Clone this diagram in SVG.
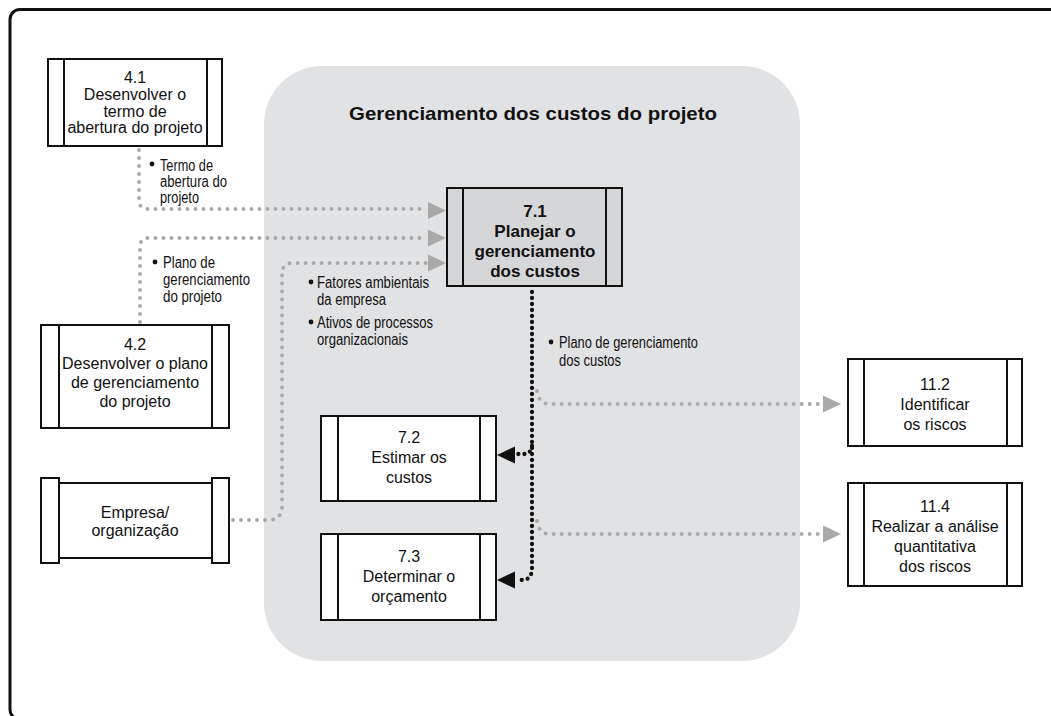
<svg xmlns="http://www.w3.org/2000/svg" width="1051" height="716" viewBox="0 0 1051 716">
<defs>
<style>
.box{fill:#fff;stroke:#111;stroke-width:2}
.hl{fill:#d5d6d8;stroke:#111;stroke-width:2}
.t{font-family:"Liberation Sans",Arial,sans-serif;font-size:16px;fill:#111;text-anchor:middle}
.tb{font-family:"Liberation Sans",Arial,sans-serif;font-size:17px;font-weight:bold;fill:#111;text-anchor:middle}
.lb{font-family:"Liberation Sans",Arial,sans-serif;font-size:16px;fill:#111}
.gd{fill:none;stroke:#a9a9a9;stroke-width:4;stroke-linecap:round;stroke-dasharray:0 8}
.bd{fill:none;stroke:#111;stroke-width:4.3;stroke-linecap:round;stroke-dasharray:0 6}
.ga{fill:#a9a9a9}
.ba{fill:#111}
</style>
</defs>
<rect width="1051" height="716" fill="#fff"/>
<rect x="10" y="9.5" width="1070" height="710" rx="10" fill="none" stroke="#111" stroke-width="3"/>
<rect x="264" y="66" width="536" height="595" rx="58" fill="#e1e2e4"/>
<text x="533" y="120" font-family="Liberation Sans,Arial,sans-serif" font-size="19" font-weight="bold" fill="#111" text-anchor="middle" textLength="368" lengthAdjust="spacingAndGlyphs">Gerenciamento dos custos do projeto</text>

<g id="connectors">
<path class="gd" d="M139,150 V200 Q139,209 148,209 H426"/>
<polygon class="ga" points="428,202 446,210.5 428,219"/>
<path class="gd" d="M140,322 V247 Q140,238 149,238 H426"/>
<polygon class="ga" points="428,229.5 446,238 428,246.5"/>
<path class="gd" d="M233,520 H268 Q282,520 282,506 V274 Q282,263 293,263 H426"/>
<polygon class="ga" points="428,254.5 446,263 428,271.5"/>
<path class="bd" d="M532,292 V568 Q532,580 522,580 H518"/>
<polygon class="ba" points="515,571.5 497,580 515,588.5"/>
<path class="bd" d="M532,446 Q531,454 524,454 H518"/>
<polygon class="ba" points="515,446.5 497,455 515,463.5"/>
<path class="gd" d="M537,391 Q539,404 550,404 H820"/>
<polygon class="ga" points="823,395.5 841,404 823,412.5"/>
<path class="gd" d="M537,521 Q539,534 550,534 H820"/>
<polygon class="ga" points="823,525.5 841,534 823,542.5"/>
<circle cx="152" cy="164" r="2.4" fill="#111"/>
<text class="lb" x="160" y="171" textLength="53" lengthAdjust="spacingAndGlyphs">Termo de</text>
<text class="lb" x="160" y="187" textLength="67" lengthAdjust="spacingAndGlyphs">abertura do</text>
<text class="lb" x="160" y="203" textLength="39" lengthAdjust="spacingAndGlyphs">projeto</text>
<circle cx="155" cy="262" r="2.4" fill="#111"/>
<text class="lb" x="163" y="268" textLength="52" lengthAdjust="spacingAndGlyphs">Plano de</text>
<text class="lb" x="163" y="285" textLength="87" lengthAdjust="spacingAndGlyphs">gerenciamento</text>
<text class="lb" x="163" y="302" textLength="59" lengthAdjust="spacingAndGlyphs">do projeto</text>
<circle cx="311" cy="282" r="2.4" fill="#111"/>
<text class="lb" x="317" y="288" textLength="112" lengthAdjust="spacingAndGlyphs">Fatores ambientais</text>
<text class="lb" x="317" y="305" textLength="69" lengthAdjust="spacingAndGlyphs">da empresa</text>
<circle cx="311" cy="322" r="2.4" fill="#111"/>
<text class="lb" x="317" y="328" textLength="116" lengthAdjust="spacingAndGlyphs">Ativos de processos</text>
<text class="lb" x="317" y="345" textLength="91" lengthAdjust="spacingAndGlyphs">organizacionais</text>
<circle cx="551" cy="342" r="2.4" fill="#111"/>
<text class="lb" x="559" y="348" textLength="139" lengthAdjust="spacingAndGlyphs">Plano de gerenciamento</text>
<text class="lb" x="559" y="366" textLength="62" lengthAdjust="spacingAndGlyphs">dos custos</text>
</g>

<g id="n41">
<rect class="box" x="48" y="59" width="174" height="87"/>
<line x1="64" y1="59" x2="64" y2="146" stroke="#111" stroke-width="2"/>
<line x1="207" y1="59" x2="207" y2="146" stroke="#111" stroke-width="2"/>
<text class="t" x="135" y="83" font-size="15.5">4.1</text>
<text class="t" x="135" y="100" font-size="15.5">Desenvolver o</text>
<text class="t" x="135" y="116.5" font-size="15.5">termo de</text>
<text class="t" x="135" y="133" font-size="15.5">abertura do projeto</text>
</g>

<g id="n42">
<rect class="box" x="41" y="325" width="188" height="103"/>
<line x1="59" y1="325" x2="59" y2="428" stroke="#111" stroke-width="2"/>
<line x1="212" y1="325" x2="212" y2="428" stroke="#111" stroke-width="2"/>
<text class="t" x="135" y="350" font-size="17">4.2</text>
<text class="t" x="135" y="369" font-size="17">Desenvolver o plano</text>
<text class="t" x="135" y="388" font-size="17">de gerenciamento</text>
<text class="t" x="135" y="407" font-size="17">do projeto</text>
</g>

<g id="nEmp">
<rect class="box" x="41" y="478" width="18" height="85"/>
<rect class="box" x="212" y="478" width="17" height="85"/>
<rect class="box" x="59" y="483" width="153" height="75"/>
<text class="t" x="135" y="518" font-size="17">Empresa/</text>
<text class="t" x="135" y="536" font-size="17">organização</text>
</g>

<g id="n71">
<rect class="hl" x="447" y="188" width="175" height="98"/>
<line x1="463" y1="188" x2="463" y2="286" stroke="#111" stroke-width="2"/>
<line x1="606" y1="188" x2="606" y2="286" stroke="#111" stroke-width="2"/>
<text class="tb" x="535" y="217">7.1</text>
<text class="tb" x="535" y="237">Planejar o</text>
<text class="tb" x="535" y="257">gerenciamento</text>
<text class="tb" x="535" y="277">dos custos</text>
</g>

<g id="n72">
<rect class="box" x="321" y="416" width="175" height="85"/>
<line x1="338" y1="416" x2="338" y2="501" stroke="#111" stroke-width="2"/>
<line x1="480" y1="416" x2="480" y2="501" stroke="#111" stroke-width="2"/>
<text class="t" x="409" y="443">7.2</text>
<text class="t" x="409" y="463">Estimar os</text>
<text class="t" x="409" y="483">custos</text>
</g>

<g id="n73">
<rect class="box" x="321" y="534" width="175" height="86"/>
<line x1="338" y1="534" x2="338" y2="620" stroke="#111" stroke-width="2"/>
<line x1="480" y1="534" x2="480" y2="620" stroke="#111" stroke-width="2"/>
<text class="t" x="409" y="562">7.3</text>
<text class="t" x="409" y="582">Determinar o</text>
<text class="t" x="409" y="602">orçamento</text>
</g>

<g id="n112">
<rect class="box" x="848" y="359" width="174" height="87"/>
<line x1="864" y1="359" x2="864" y2="446" stroke="#111" stroke-width="2"/>
<line x1="1007" y1="359" x2="1007" y2="446" stroke="#111" stroke-width="2"/>
<text class="t" x="935" y="390">11.2</text>
<text class="t" x="935" y="410">Identificar</text>
<text class="t" x="935" y="430">os riscos</text>
</g>

<g id="n114">
<rect class="box" x="848" y="483" width="174" height="103"/>
<line x1="864" y1="483" x2="864" y2="586" stroke="#111" stroke-width="2"/>
<line x1="1007" y1="483" x2="1007" y2="586" stroke="#111" stroke-width="2"/>
<text class="t" x="935" y="512">11.4</text>
<text class="t" x="935" y="532">Realizar a análise</text>
<text class="t" x="935" y="552">quantitativa</text>
<text class="t" x="935" y="572">dos riscos</text>
</g>
</svg>
